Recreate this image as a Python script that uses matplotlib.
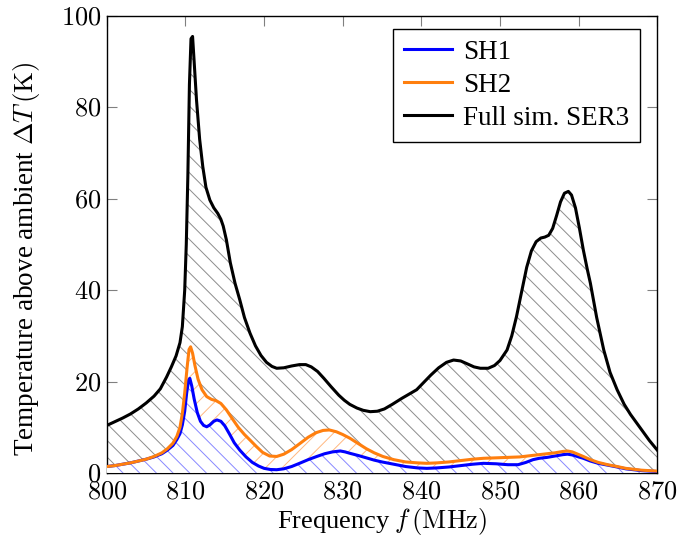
import matplotlib
matplotlib.use('Agg')
import matplotlib.pyplot as plt

plt.rcParams['font.family'] = ['Liberation Serif', 'DejaVu Serif']
plt.rcParams['mathtext.fontset'] = 'cm'
plt.rcParams['hatch.linewidth'] = 0.7

# Full simulation SER3
f_full = [800, 801, 802, 803, 804, 805, 806, 806.8, 807.6, 808.2, 808.8, 809.3, 809.6,
          809.9, 810.1, 810.3, 810.5, 810.7, 810.9, 811.1, 811.4, 811.8, 812.2, 812.6,
          813.1, 813.6, 814.1, 814.5, 814.8, 815.2, 815.7, 816.3, 816.9, 817.5, 818.2,
          818.9, 819.6, 820.3, 821, 821.6, 822.5, 823.5, 824.5, 825.3, 826, 826.8, 827.6,
          828.5, 829.5, 830.2, 830.9, 831.8, 832.6, 833.5, 834.4, 835.3, 836.3, 837.5,
          838.5, 839.4, 840.3, 841.2, 842.2, 843.2, 844.1, 845, 845.8, 846.7, 847.5,
          848.5, 849.3, 850, 850.9, 851.5, 852.1, 852.7, 853.4, 854, 854.6, 855.2, 855.7,
          856.2, 856.7, 857.2, 857.7, 858.2, 858.7, 859.1, 859.6, 860.1, 860.6, 861.1,
          861.5, 862.3, 863.2, 864, 864.9, 865.8, 866.6, 867.4, 868.2, 869, 870]
t_full = [10.4, 11.2, 12.0, 12.9, 14.0, 15.3, 16.8, 18.4, 21.0, 23.2, 25.6, 28.5, 32.0,
          40.0, 50.0, 65.0, 85.0, 95.0, 95.5, 90.0, 81.6, 73.0, 67.0, 62.5,
          59.7, 58.0, 56.8, 55.5, 54.0, 51.0, 46.0, 41.5, 37.9, 34.0, 30.6,
          27.8, 25.7, 24.2, 23.3, 22.9, 23.0, 23.4, 23.7, 23.7, 23.2, 22.2, 20.7,
          18.9, 17.0, 15.9, 15.0, 14.2, 13.7, 13.4, 13.5, 14.0, 15.0, 16.3,
          17.3, 18.2, 19.8, 21.4, 23.0, 24.2, 24.7, 24.5, 23.9, 23.2, 22.9,
          22.9, 23.5, 24.6, 26.9, 30.0, 34.2, 39.2, 45.0, 48.6, 50.6, 51.4, 51.6,
          52.0, 53.5, 56.3, 59.3, 61.2, 61.6, 60.8, 58.0, 53.6, 48.8, 44.6,
          41.5, 34.0, 26.9, 22.0, 18.2, 15.0, 12.8, 10.9, 9.0, 7.1, 5.0]

# SH2
f_sh2 = [800, 801, 802, 803, 804, 805, 806, 807, 807.7, 808.4, 808.9, 809.3, 809.6,
         809.9, 810.2, 810.45, 810.65, 810.9, 811.2, 811.6, 812.1, 812.7, 813.3, 813.9,
         814.5, 815.2, 815.9, 816.7, 817.5, 818.2, 819, 819.8, 820.7, 821.6, 822.5,
         823.5, 824.6, 825.6, 826.6, 827.5, 828.3, 829.2, 830, 830.9, 831.9, 833, 834,
         835.1, 836.5, 838, 839.5, 840.7, 842, 843.5, 845, 846.5, 847.9, 849.5, 851,
         852.5, 854, 855.5, 857, 858, 858.6, 859.2, 859.9, 860.6, 861.5, 862.5, 863.7,
         864.9, 866, 867, 868, 869, 870]
t_sh2 = [1.4, 1.6, 1.9, 2.2, 2.6, 3.0, 3.6, 4.4, 5.3, 6.5, 8.0, 10.0, 13.0,
         17.5, 23.0, 27.0, 27.6, 26.2, 23.5, 20.5, 18.2, 16.7, 16.1, 15.8,
         15.2, 13.8, 12.0, 10.0, 8.4, 7.2, 5.8, 4.5, 3.7, 3.6, 4.1,
         5.1, 6.5, 7.8, 8.8, 9.3, 9.4, 9.0, 8.4, 7.6, 6.5, 5.3, 4.4,
         3.6, 2.9, 2.4, 2.2, 2.1, 2.2, 2.4, 2.7, 3.0, 3.2, 3.3, 3.4,
         3.5, 3.8, 4.1, 4.4, 4.7, 4.8, 4.6, 4.1, 3.6, 2.9, 2.3, 1.8,
         1.4, 1.0, 0.8, 0.6, 0.5, 0.4]

# SH1
f_sh1 = [800, 801, 802, 803, 804, 805, 806, 807, 807.7, 808.4, 808.9, 809.3, 809.6,
         809.9, 810.15, 810.4, 810.55, 810.8, 811.1, 811.5, 811.9, 812.3, 812.7, 813.1,
         813.6, 814, 814.5, 815, 815.6, 816.2, 816.9, 817.7, 818.5, 819.3, 820, 820.8,
         821.6, 822.5, 823.5, 824.5, 825.6, 826.7, 827.7, 828.7, 829.7, 830.3, 830.9,
         832, 833, 834, 835, 836.5, 838, 839.5, 840.7, 842, 843.5, 845, 846.5, 847.9,
         849.5, 851, 852.3, 853.3, 854.2, 855, 856, 857, 858, 858.6, 859.3, 860, 860.6,
         861.5, 862.5, 863.7, 864.9, 866, 867, 868, 869, 870]
t_sh1 = [1.4, 1.6, 1.9, 2.2, 2.6, 3.0, 3.5, 4.2, 5.0, 6.0, 7.3, 8.6, 10.5,
         13.5, 17.5, 20.3, 20.7, 19.0, 16.2, 13.2, 11.3, 10.4, 10.1, 10.5,
         11.3, 11.6, 11.3, 10.3, 8.5, 6.6, 5.0, 3.5, 2.3, 1.5, 1.0, 0.75,
         0.7, 0.9, 1.4, 2.1, 2.9, 3.6, 4.2, 4.6, 4.8, 4.6, 4.3,
         3.8, 3.3, 2.8, 2.4, 1.9, 1.4, 1.1, 1.0, 1.1, 1.3, 1.6, 1.9, 2.1,
         2.0, 1.8, 1.8, 2.3, 2.9, 3.2, 3.4, 3.7, 4.0, 4.1, 3.9, 3.5, 3.2,
         2.6, 2.1, 1.7, 1.3, 0.9, 0.7, 0.5, 0.4, 0.3]

fig, ax = plt.subplots(figsize=(6.94, 5.48), dpi=100)
fig.subplots_adjust(left=0.154, right=0.947, bottom=0.137, top=0.971)

ax.fill_between(f_full, 0, t_full, facecolor='white', edgecolor='#8c8c8c',
                hatch='\\\\', linewidth=0, zorder=1)
ax.fill_between(f_sh2, 0, t_sh2, facecolor='white', edgecolor='#ffb880',
                hatch='//', linewidth=0, zorder=2)
ax.fill_between(f_sh1, 0, t_sh1, facecolor='white', edgecolor='#8888ff',
                hatch='\\\\', linewidth=0, zorder=3)

ax.plot(f_sh1, t_sh1, color='blue', linewidth=2.2, label='SH1', zorder=4,
        solid_joinstyle='round')
ax.plot(f_sh2, t_sh2, color='#ff7f0e', linewidth=2.2, label='SH2', zorder=5,
        solid_joinstyle='round')
ax.plot(f_full, t_full, color='black', linewidth=2.2, label='Full sim. SER3', zorder=6,
        solid_joinstyle='round')

ax.set_xlim(800, 870)
ax.set_ylim(0, 100)
ax.set_xticks(range(800, 871, 10))
ax.set_yticks(range(0, 101, 20))
ax.set_xticklabels(['$%d$' % v for v in range(800, 871, 10)])
ax.set_yticklabels(['$%d$' % v for v in range(0, 101, 20)])
ax.tick_params(direction='in', top=True, right=True, length=7, width=0.8,
               color='#808080', labelsize=19)
ax.tick_params(axis='x', pad=6)
ax.tick_params(axis='y', pad=4)
for s in ax.spines.values():
    s.set_linewidth(1.0)

ax.set_xlabel('Frequency $f\\,(\\mathrm{MHz})$', fontsize=19, labelpad=2)
ax.set_ylabel('Temperature above ambient $\\Delta T\\,(\\mathrm{K})$', fontsize=19.5)
ax.yaxis.set_label_coords(-0.118, 0.47)

leg = ax.legend(loc='upper right', fontsize=19.5, fancybox=False, edgecolor='black',
                framealpha=1, handlelength=1.8, borderpad=0.4, labelspacing=0.3,
                handletextpad=0.4, borderaxespad=0, bbox_to_anchor=(0.969, 0.972))
leg.get_frame().set_linewidth(1.0)
leg.set_zorder(10)

fig.savefig('out.png', dpi=100)
